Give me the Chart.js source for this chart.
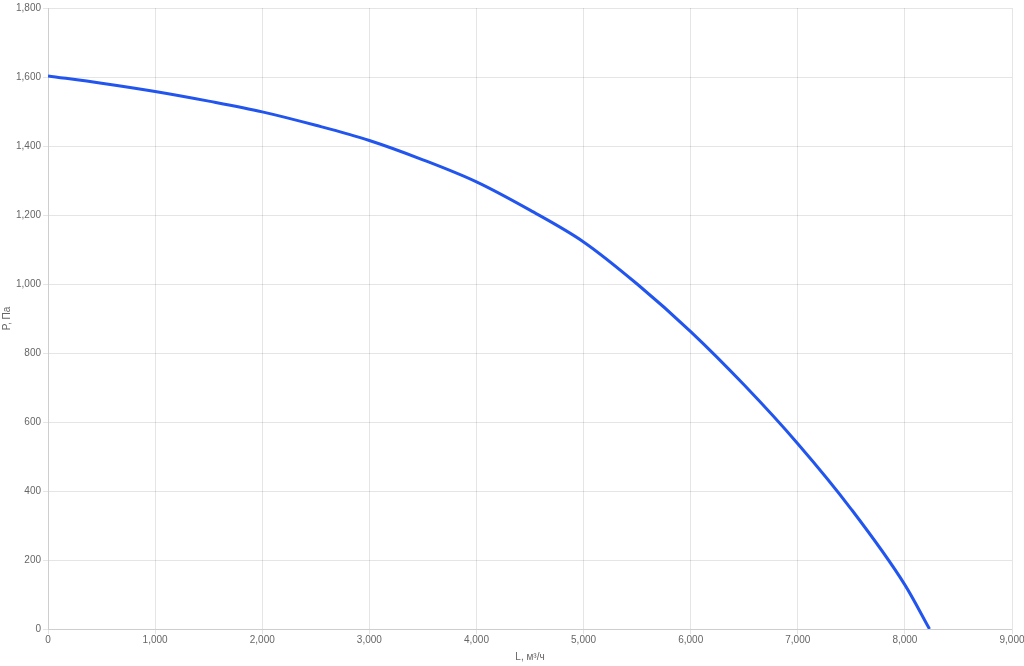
<!DOCTYPE html>
<html lang="ru">
<head>
    <meta charset="UTF-8">
    <title>P(L)</title>
    <script src="https://cdn.jsdelivr.net/npm/chart.js"></script>
    <style>
        html, body { margin: 0; padding: 0; background: #fff; }
        .chart-container { width: 1024px; height: 666px; }
    </style>
</head>
<body>
    <div class="chart-container">
        <canvas id="fanChart"></canvas>
    </div>

    <script>
        // расход, м³/ч
        const flowValues = [0, 500, 1000, 1500, 2000, 2500, 3000, 3500, 4000, 4500, 5000, 5500, 6000, 6500, 7000, 7500, 8000, 8230];
        // давление, Па
        const pressureValues = [1603, 1582, 1558, 1530, 1499, 1460, 1416, 1360, 1296, 1214, 1122, 1000, 862, 707, 537, 347, 128, 0];

        const xTitle = 'L, м³/ч';
        const yTitle = 'P, Па';

        Chart.defaults.font.family = 'Arial, "Liberation Sans", sans-serif';
        Chart.defaults.font.size = 10;
        Chart.defaults.color = '#666';

        new Chart(document.getElementById('fanChart'), {
            type: 'line',
            data: {
                datasets: [{
                    data: flowValues.map((x, i) => ({ x: x, y: pressureValues[i] })),
                    borderColor: 'rgb(34, 85, 238)',
                    borderWidth: 3,
                    pointRadius: 0,
                    fill: false,
                    cubicInterpolationMode: 'monotone'
                }]
            },
            options: {
                responsive: true,
                maintainAspectRatio: false,
                animation: false,
                layout: { padding: { bottom: 2 } },
                plugins: {
                    legend: { display: false },
                    tooltip: { enabled: false }
                },
                scales: {
                    x: {
                        type: 'linear',
                        min: 0,
                        max: 9000,
                        grid: { tickLength: 5 },
                        ticks: { stepSize: 1000, padding: 0 },
                        title: { display: true, text: xTitle, padding: { top: 5, bottom: 1 } },
                        afterFit: scale => { scale.paddingRight = 12; }
                    },
                    y: {
                        min: 0,
                        max: 1800,
                        grid: { tickLength: 5 },
                        ticks: { stepSize: 200, padding: 2 },
                        title: { display: true, text: yTitle, padding: 1 }
                    }
                }
            }
        });
    </script>
</body>
</html>
